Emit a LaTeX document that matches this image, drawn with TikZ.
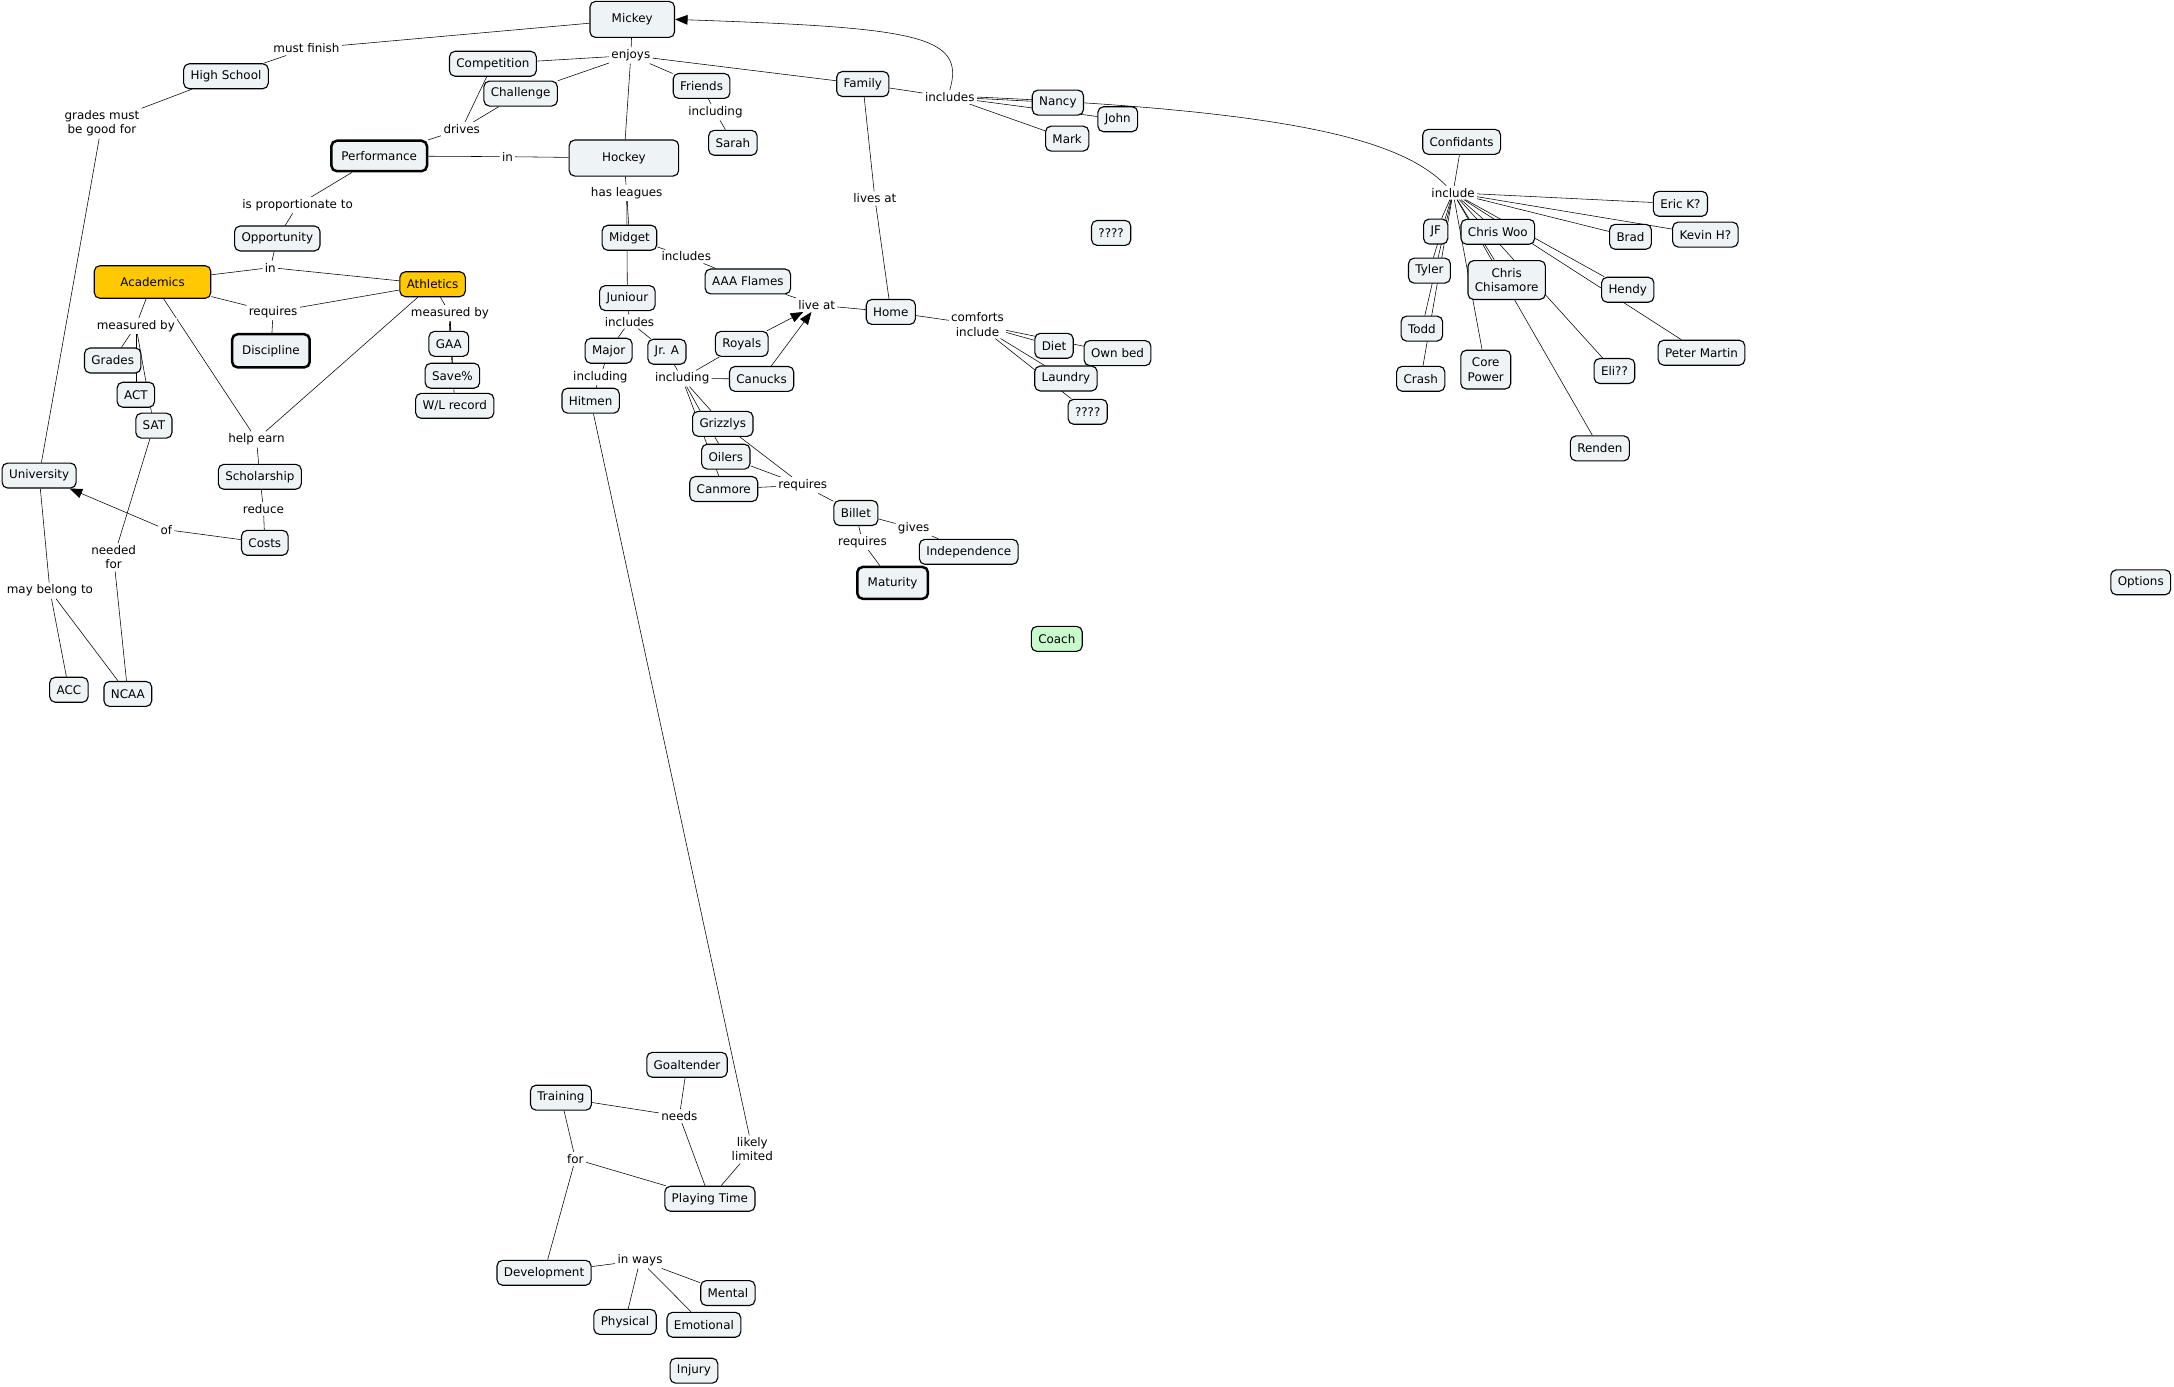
\documentclass[tikz,border=0pt]{standalone}
\usepackage{fontspec}
\setmainfont{DejaVu Sans}
\usetikzlibrary{arrows.meta,positioning,backgrounds}
\definecolor{conceptfill}{HTML}{EEF3F5}
\definecolor{goldfill}{HTML}{FFC800}
\definecolor{coachfill}{HTML}{C8FACC}

\begin{document}
\begin{tikzpicture}[x=1pt, y=-1pt, >={Triangle[length=9pt,width=7pt]},
  font=\fontsize{8.6}{10.3}\selectfont,
  concept/.style={draw, rounded corners=4pt, fill=conceptfill, line width=0.8pt,
    inner xsep=5pt, inner ysep=2pt, minimum height=18pt, align=center},
  keyconcept/.style={concept, line width=1.8pt},
  goldconcept/.style={concept, fill=goldfill},
  link/.style={fill=white, inner sep=1.5pt, align=center}]
\useasboundingbox (0,0) rectangle (1568,1000);

% concepts
\node[concept,minimum width=61pt,minimum height=26pt] (mickey) at (456,14) {Mickey};
\node[concept] (highschool) at (163,55) {High School};
\node[concept] (competition) at (355.5,46) {Competition};
\node[concept] (challenge) at (375.5,67.5) {Challenge};
\node[keyconcept,minimum width=69pt,minimum height=22pt] (performance) at (273.5,112.5) {Performance};
\node[concept,minimum width=79pt,minimum height=26pt] (hockey) at (450,114) {Hockey};
\node[concept] (midget) at (454,171.5) {Midget};
\node[concept] (opportunity) at (200,172) {Opportunity};
\node[goldconcept,minimum width=84pt,minimum height=23.5pt] (academics) at (110,203.4) {Academics};
\node[goldconcept] (athletics) at (312,205) {Athletics};
\node[keyconcept,minimum width=56pt,minimum height=24pt] (discipline) at (195.4,253) {Discipline};
\node[concept] (gaa) at (323.7,248) {GAA};
\node[concept] (save) at (326.3,271) {Save\%};
\node[concept] (wl) at (328,292.7) {W/L record};
\node[concept] (grades) at (81.3,260) {Grades};
\node[concept] (act) at (98,284.7) {ACT};
\node[concept] (sat) at (111,307) {SAT};
\node[concept] (juniour) at (452.5,215) {Juniour};
\node[concept] (major) at (439,253) {Major};
\node[concept] (jra) at (481,253.7) {Jr. A};
\node[concept] (hitmen) at (426,289) {Hitmen};
\node[concept] (friends) at (506,62) {Friends};
\node[concept] (sarah) at (528.6,103) {Sarah};
\node[concept] (family) at (622.3,60.6) {Family};
\node[concept] (nancy) at (763,74) {Nancy};
\node[concept] (john) at (806.2,86) {John};
\node[concept] (mark) at (769.7,100) {Mark};
\node[concept] (qmarks) at (801.4,168) {????};
\node[concept] (aaaflames) at (539.4,203) {AAA Flames};
\node[concept] (home) at (642.5,225) {Home};
\node[concept] (diet) at (760.2,249.4) {Diet};
\node[concept] (ownbed) at (806,254.7) {Own bed};
\node[concept] (laundry) at (768.8,273) {Laundry};
\node[concept] (qmarkstwo) at (784.5,297) {????};
\node[concept] (royals) at (535,248) {Royals};
\node[concept] (canucks) at (549.3,273.3) {Canucks};
\node[concept] (grizzlys) at (521.3,305.7) {Grizzlys};
\node[concept] (oilers) at (523.5,329.4) {Oilers};
\node[concept] (canmore) at (522,352.7) {Canmore};
\node[concept] (billet) at (617.3,370) {Billet};
\node[concept] (independence) at (698.7,398) {Independence};
\node[keyconcept,minimum width=51pt,minimum height=23pt] (maturity) at (643.8,420.4) {Maturity};
\node[concept,fill=coachfill] (coach) at (762.2,460.8) {Coach};
\node[concept] (confidants) at (1054.2,102.3) {Confidants};
\node[concept] (erick) at (1212,147) {Eric K?};
\node[concept] (brad) at (1176,170.8) {Brad};
\node[concept] (kevinh) at (1230,169.2) {Kevin H?};
\node[concept] (jf) at (1035.5,167) {JF};
\node[concept] (chriswoo) at (1080.3,167.2) {Chris Woo};
\node[concept] (tyler) at (1031,195.2) {Tyler};
\node[concept,minimum height=28pt] (chrischis) at (1086.7,202) {Chris\\Chisamore};
\node[concept] (hendy) at (1174,209) {Hendy};
\node[concept] (todd) at (1025.5,237) {Todd};
\node[concept] (crash) at (1024.7,273.2) {Crash};
\node[concept,minimum height=28pt] (corepower) at (1071.6,266.6) {Core\\Power};
\node[concept] (eli) at (1164.4,267.6) {Eli??};
\node[concept] (petermartin) at (1227.2,254.4) {Peter Martin};
\node[concept] (renden) at (1153.9,323.4) {Renden};
\node[concept] (university) at (28.2,343) {University};
\node[concept] (scholarship) at (187.4,343.9) {Scholarship};
\node[concept] (costs) at (191,391.5) {Costs};
\node[concept] (acc) at (49.7,497.5) {ACC};
\node[concept] (ncaa) at (92.2,500.5) {NCAA};
\node[concept] (goaltender) at (495.5,768) {Goaltender};
\node[concept] (training) at (404.6,791.7) {Training};
\node[concept] (playingtime) at (512,864.6) {Playing Time};
\node[concept] (development) at (392.4,918) {Development};
\node[concept] (mental) at (525,932.6) {Mental};
\node[concept] (physical) at (450.8,953.4) {Physical};
\node[concept] (emotional) at (507.7,955.5) {Emotional};
\node[concept] (injury) at (500.5,988.6) {Injury};
\node[concept] (options) at (1544,420) {Options};

% linking phrases
\node[link] (mustfinish) at (221,35) {must finish};
\node[link] (gradesfor) at (73.5,89) {grades must\\be good for};
\node[link] (enjoys) at (455,40) {enjoys};
\node[link] (drives) at (333,93) {drives};
\node[link] (inperf) at (366,113) {in};
\node[link] (hasleagues) at (452,139) {has leagues};
\node[link] (inclmidget) at (495,185) {includes};
\node[link] (proportionate) at (214.6,148) {is proportionate to};
\node[link] (inopp) at (195,193) {in};
\node[link] (requiresdisc) at (197,225) {requires};
\node[link] (measacad) at (98,235) {measured by};
\node[link] (measath) at (324.5,226) {measured by};
\node[link] (helpearn) at (185,317) {help earn};
\node[link] (incljun) at (454,232) {includes};
\node[link] (inclmajor) at (433,272) {including};
\node[link] (incljra) at (492,273) {including};
\node[link] (inclfriends) at (516,81) {including};
\node[link] (inclfamily) at (685,70) {includes};
\node[link] (livesat) at (631,143) {lives at};
\node[link] (liveat) at (589,220) {live at};
\node[link] (comforts) at (705,234) {comforts\\include};
\node[link] (reqbillet) at (579,350) {requires};
\node[link] (gives) at (659,381) {gives};
\node[link] (reqmaturity) at (622,391) {requires};
\node[link] (include) at (1048,139) {include};
\node[link] (of) at (120,382) {of};
\node[link] (reduce) at (190,367) {reduce};
\node[link] (neededfor) at (82,402) {needed\\for};
\node[link] (maybelong) at (36,426) {may belong to};
\node[link] (needs) at (490,805) {needs};
\node[link] (likelylimited) at (542.6,829) {likely\\limited};
\node[link] (for) at (415,836) {for};
\node[link] (inways) at (461.6,909) {in ways};

% connectors
\begin{scope}[on background layer, line width=0.9pt]
\draw (mickey) -- (mustfinish) -- (highschool);
\draw (highschool) -- (gradesfor) -- (university);
\draw (mickey) -- (enjoys);
\foreach \t in {competition,challenge,hockey,friends,family}
  \draw (enjoys) -- (\t);
\draw (competition) -- (drives);
\draw (challenge) -- (drives);
\draw (drives) -- (performance);
\draw (performance) -- (inperf) -- (hockey);
\draw (hockey) -- (hasleagues);
\draw (hasleagues) -- (midget);
\draw (hasleagues) -- (juniour);
\draw (midget) -- (inclmidget) -- (aaaflames);
\draw (juniour) -- (incljun);
\draw (incljun) -- (major);
\draw (incljun) -- (jra);
\draw (major) -- (inclmajor) -- (hitmen);
\draw (jra) -- (incljra);
\foreach \t in {royals,canucks,grizzlys,oilers,canmore}
  \draw (incljra) -- (\t);
\draw[->] (royals) -- (liveat);
\draw[->] (canucks) -- (liveat);
\draw (aaaflames) -- (liveat);
\draw (liveat) -- (home);
\foreach \t in {grizzlys,oilers,canmore}
  \draw (\t) -- (reqbillet);
\draw (reqbillet) -- (billet);
\draw (billet) -- (gives) -- (independence);
\draw (billet) -- (reqmaturity) -- (maturity);
\draw (friends) -- (inclfriends) -- (sarah);
\draw (family) -- (inclfamily);
\foreach \t in {nancy,john,mark}
  \draw (inclfamily) -- (\t);
\draw[->] (inclfamily.north) .. controls (697,25) and (660,20) .. (mickey.east);
\draw (inclfamily.east) .. controls (930,80) and (1010,100) .. (include);
\draw (family) -- (livesat) -- (home);
\draw (home) -- (comforts);
\foreach \t in {diet,ownbed,laundry,qmarkstwo}
  \draw (comforts) -- (\t);
\draw (confidants) -- (include);
\foreach \t in {jf,tyler,todd,crash,chriswoo,chrischis,corepower,hendy,petermartin,eli,renden,brad,kevinh,erick}
  \draw (include) -- (\t);
\draw (performance) -- (proportionate) -- (opportunity);
\draw (opportunity) -- (inopp);
\draw (inopp) -- (academics);
\draw (inopp) -- (athletics);
\draw (academics) -- (requiresdisc);
\draw (athletics) -- (requiresdisc);
\draw (requiresdisc) -- (discipline);
\draw (academics) -- (measacad);
\foreach \t in {grades,act,sat}
  \draw (measacad) -- (\t);
\draw (athletics) -- (measath);
\foreach \t in {gaa,save,wl}
  \draw (measath) -- (\t);
\draw (academics) -- (helpearn);
\draw (athletics) -- (helpearn);
\draw (helpearn) -- (scholarship);
\draw (sat) -- (neededfor) -- (ncaa);
\draw (scholarship) -- (reduce) -- (costs);
\draw (costs) -- (of);
\draw[->] (of) -- (university);
\draw (university) -- (maybelong);
\draw (maybelong) -- (acc);
\draw (maybelong) -- (ncaa);
\draw (hitmen) -- (likelylimited) -- (playingtime);
\draw (training) -- (needs);
\draw (goaltender) -- (needs);
\draw (needs) -- (playingtime);
\draw (training) -- (for);
\draw (for) -- (development);
\draw (for) -- (playingtime);
\draw (development) -- (inways);
\foreach \t in {physical,emotional,mental}
  \draw (inways) -- (\t);
\end{scope}
\end{tikzpicture}
\end{document}
